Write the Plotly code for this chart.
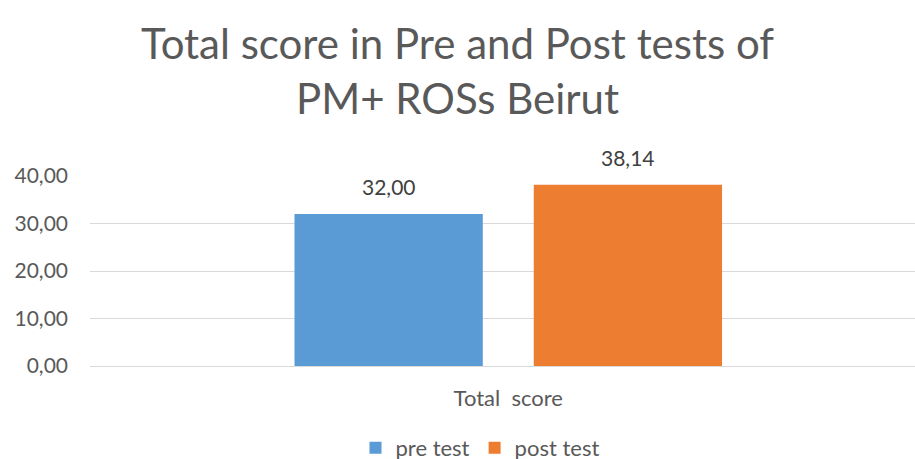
import plotly.graph_objects as go

categories = ["Total\u00a0 score"]
series_names = ["pre test", "post test"]
pre_values = [32.00]
post_values = [38.14]
y_ticks = [0, 10, 20, 30, 40]
colors = ["#5B9BD5", "#ED7D31"]

W, H = 915, 459
FONT = "Lato"
GREY = "#595959"
BARGAP = 0.42

fig = go.Figure()
series = [pre_values, post_values]
for name, vals, col in zip(series_names, series, colors):
    fig.add_trace(go.Bar(
        x=categories, y=vals, name=name, marker_color=col,
        marker_line_width=0,
    ))

# data labels above each bar (grouped bar centres on the category axis)
n = len(series)
slot = (1 - BARGAP) / n
for k, vals in enumerate(series):
    for i, v in enumerate(vals):
        fig.add_annotation(
            x=i + (k - (n - 1) / 2) * slot, y=v, xref="x", yref="y",
            text=f"{v:.2f}".replace(".", ","), showarrow=False,
            yanchor="bottom", yshift=13,
            font=dict(family=FONT, size=21, color="#404040"),
        )

fig.update_layout(
    width=W, height=H,
    margin=dict(l=90, r=0, t=176, b=93),
    paper_bgcolor="white", plot_bgcolor="white",
    separators=", ",
    barmode="group", bargap=BARGAP, bargroupgap=0.213,
    title=dict(
        text="Total score in Pre and Post tests of<br>PM+ ROSs Beirut",
        x=0.5, xref="container", xanchor="center",
        y=1 - 59 / H, yref="container", yanchor="top",
        font=dict(family=FONT, size=42, color=GREY),
    ),
    font=dict(family=FONT, size=21, color=GREY),
    showlegend=True,
    legend=dict(
        orientation="h", x=480 / W, xanchor="center", xref="container",
        y=(H - 448) / H, yanchor="middle", yref="container",
        font=dict(family=FONT, size=22, color=GREY),
    ),
    xaxis=dict(
        range=[-0.507, 0.493], showgrid=False, showline=False, zeroline=False,
        ticks="", ticklabelstandoff=17,
        tickfont=dict(family=FONT, size=22, color=GREY),
    ),
    yaxis=dict(
        range=[0, 40], tickvals=y_ticks, tickformat=".2f",
        showgrid=True, gridcolor="#D9D9D9", gridwidth=1,
        zeroline=True, zerolinecolor="#D9D9D9", zerolinewidth=1,
        showline=False, ticks="", ticklabelstandoff=21,
        tickfont=dict(family=FONT, size=21, color=GREY),
    ),
)

fig.write_html("out.html", config={"displayModeBar": False},
               post_script="document.body.style.margin='0px';")
